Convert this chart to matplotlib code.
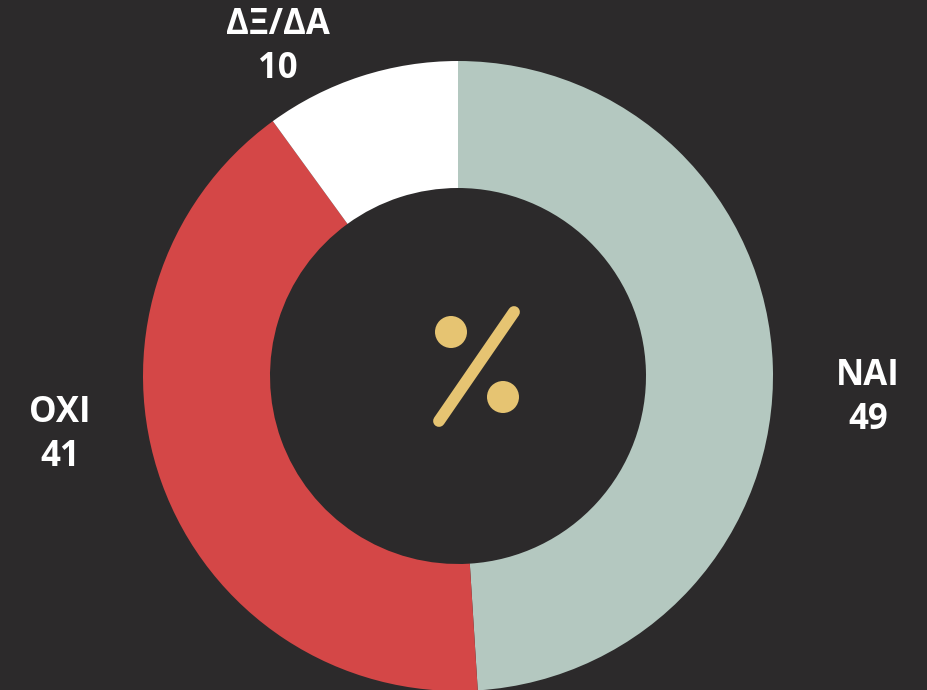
import matplotlib.pyplot as plt
from matplotlib.patches import Circle

labels = ["ΝΑΙ", "ΟΧΙ", "ΔΞ/ΔΑ"]
values = [49, 41, 10]
colors = ["#b4c8c0", "#d44747", "#ffffff"]

bg = "#2c2a2b"
gold = "#e6c472"

plt.rcParams['font.family'] = ['Open Sans', 'DejaVu Sans']

fig = plt.figure(figsize=(9.28, 6.9), dpi=100, facecolor=bg)
ax = fig.add_axes([0, 0, 1, 1])
ax.set_facecolor(bg)

# donut, pixel-like coordinates (y up)
cx, cy, r_out, r_in = 458, 314, 315, 188
ax.pie(values, colors=colors, startangle=90, counterclock=False,
       center=(cx, cy), radius=r_out, frame=True,
       wedgeprops=dict(width=r_out - r_in, linewidth=0))
ax.set_xlim(0, 928)
ax.set_ylim(0, 690)
ax.set_aspect('equal')
ax.axis('off')

# labels
label_pos = [(868, 292), (60, 255), (278, 643)]
for name, val, (x, y) in zip(labels, values, label_pos):
    ax.text(x, y, f"{name}\n{val}", ha='center', va='center', color='white',
            fontsize=25, fontweight='bold', linespacing=1.3)

# percent icon in the middle
ax.plot([439, 514], [690 - 421, 690 - 312], color=gold, linewidth=8.5,
        solid_capstyle='round')
ax.add_patch(Circle((451, 690 - 332), 16, color=gold, linewidth=0))
ax.add_patch(Circle((503, 690 - 397), 16, color=gold, linewidth=0))

plt.savefig('out.png', dpi=100, facecolor=bg)
